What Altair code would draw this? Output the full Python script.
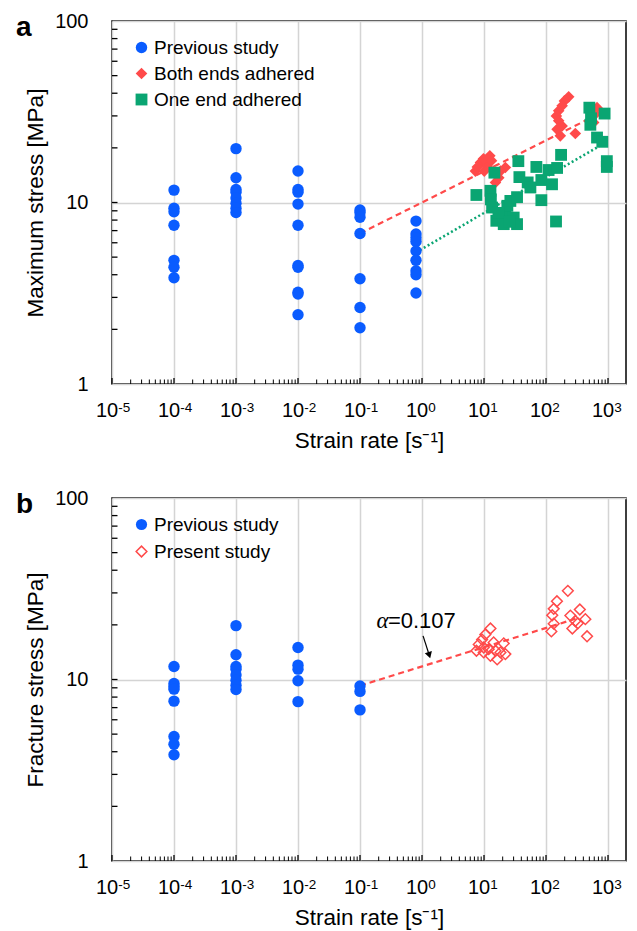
import altair as alt
import pandas as pd

FONT = "Liberation Sans"
BLUE = "#0a5cff"
RED = "#ff4a4a"
GREEN = "#0aa572"
GRID = "#d4d4d4"

# ---------------- axis ticks ----------------
x_ticks = [1e-5, 1e-4, 1e-3, 1e-2, 1e-1, 1, 10, 100, 1000]
x_tick_base = "10"
x_tick_exps = ["-5", "-4", "-3", "-2", "-1", "0", "1", "2", "3"]
y_ticks = [1, 10, 100]
x_minor = [m * 10.0 ** e for e in range(-5, 3) for m in range(2, 10)]
y_minor = [m * 10.0 ** e for e in range(0, 2) for m in range(2, 10)]

# ---------------- panel a data ----------------
prev_a_rate = [1e-4, 1e-4, 1e-4, 1e-4, 1e-4, 1e-4, 1e-4,
               1e-3, 1e-3, 1e-3, 1e-3, 1e-3, 1e-3, 1e-3, 1e-3,
               1e-2, 1e-2, 1e-2, 1e-2, 1e-2, 1e-2, 1e-2, 1e-2, 1e-2, 1e-2,
               1e-1, 1e-1, 1e-1, 1e-1, 1e-1, 1e-1, 1e-1,
               0.8, 0.8, 0.8, 0.8, 0.8, 0.8, 0.8, 0.8, 0.8]
prev_a_stress = [11.7, 9.3, 8.9, 7.5, 4.8, 4.4, 3.85,
                 19.8, 13.7, 11.8, 11.4, 10.6, 9.9, 9.3, 8.8,
                 14.9, 11.8, 11.4, 9.8, 7.5, 4.5, 4.4, 3.2, 3.13, 2.41,
                 9.1, 8.8, 8.3, 6.75, 3.8, 2.64, 2.04,
                 7.9, 6.7, 6.4, 6.1, 5.4, 4.8, 4.2, 4.0, 3.17]

both_rate = [12.4, 8.75, 7.27, 14.3, 22.1, 15.3, 17.3, 11.2, 9.8, 7.8, 18.4, 13.2, 10.1,
             232, 198, 182, 160, 147, 160, 182, 151, 170, 297, 519, 624, 586, 665]
both_stress = [18.1, 16.6, 14.9, 14.9, 15.6, 12.9, 13.7, 15.9, 17.4, 15.7, 14.9, 17.0, 14.9,
               38.2, 36.3, 34.1, 32.0, 30.0, 28.2, 26.4, 25.3, 23.3, 24.0, 32.0, 30.7, 27.6, 33.3]

one_rate = [7.54, 12.7, 12.9, 13.5, 14.7, 15.8, 20.8, 22.1, 23.8, 26.6, 30.1, 34.1, 34.1,
            35.8, 37.2, 50.6, 56.0, 69.9, 84.1, 84.1, 125, 110, 151, 175, 145,
            500, 532, 519, 665, 809, 881, 957, 957, 17.1, 25.6]
one_stress = [11.0, 11.6, 10.4, 9.38, 14.6, 7.93, 7.60, 8.63, 9.59, 10.2, 8.26, 10.7, 7.60,
              16.9, 13.8, 12.9, 12.1, 15.7, 13.3, 10.3, 12.6, 15.1, 15.5, 18.3, 7.86,
              33.3, 29.1, 26.8, 22.8, 21.6, 30.9, 15.7, 16.9, 8.77, 7.83]

fit_both_rate = [0.1, 665]
fit_both_stress = [6.75, 30.4]
fit_one_rate = [0.8, 733]
fit_one_stress = [5.31, 20.5]

# ---------------- panel b data ----------------
prev_b_rate = [1e-4, 1e-4, 1e-4, 1e-4, 1e-4, 1e-4, 1e-4, 1e-4,
               1e-3, 1e-3, 1e-3, 1e-3, 1e-3, 1e-3, 1e-3, 1e-3,
               1e-2, 1e-2, 1e-2, 1e-2, 1e-2,
               1e-1, 1e-1, 1e-1]
prev_b_stress = [11.8, 9.5, 9.15, 8.85, 7.6, 4.85, 4.4, 3.85,
                 19.8, 13.7, 11.8, 11.4, 10.6, 9.9, 9.3, 8.8,
                 15.0, 12.0, 11.4, 9.85, 7.55,
                 9.2, 8.6, 6.8]

present_rate = [12.7, 10.5, 9.31, 8.22, 7.55, 9.89, 11.9, 14.3, 15.3, 20.8, 18.4, 22.1, 12.7, 16.3, 9.89,
                225, 150, 133, 126, 133, 122, 247, 297, 351, 431, 326, 266, 459]
present_stress = [19.1, 17.7, 16.6, 15.6, 14.4, 15.0, 14.7, 16.0, 14.4, 15.8, 14.1, 13.8, 13.5, 12.9, 14.1,
                  30.8, 27.0, 24.5, 22.6, 20.3, 18.4, 22.5, 21.0, 24.3, 21.5, 20.4, 19.1, 17.3]

fit_b_rate = [0.1, 300]
fit_b_stress = [9.25, 21.6]

alpha_text = ["α", "=0.107"]
alpha_rate = [0.185, 0.282]
alpha_stress = [21.0, 21.0]
arrow_rate = [1.04, 1.31]
arrow_stress = [17.4, 13.6]

# ---------------- layout constants ----------------
W, H = 514, 363

xscale = alt.Scale(type="log", domain=[1e-5, 1950], nice=False)
yscale = alt.Scale(type="log", domain=[1, 100], nice=False)


def xenc():
    return alt.X(
        "x:Q", scale=xscale,
        axis=alt.Axis(
            values=x_ticks, labelExpr="'%s'" % x_tick_base, labelFont=FONT, labelFontSize=20,
            labelColor="black", labelPadding=16, labelOffset=-5.5, ticks=False, domain=False,
            grid=True, gridColor=GRID, gridWidth=1.5, labelFlush=False,
            title="Strain rate [s⁻¹]", titleFont=FONT, titleFontSize=22.5,
            titleFontWeight="normal", titleColor="black",
            titleX=W / 2, titleY=56, titleBaseline="middle", titleAlign="center",
        ),
    )


def yenc(title):
    return alt.Y(
        "y:Q", scale=yscale,
        axis=alt.Axis(
            values=y_ticks, format="d", labelFont=FONT, labelFontSize=20,
            labelColor="black", labelPadding=24, ticks=False, domain=False,
            grid=True, gridColor=GRID, gridWidth=1.5, labelFlush=False,
            title=title, titleFont=FONT, titleFontSize=22.5,
            titleFontWeight="normal", titleColor="black",
            titleX=-77, titleY=H / 2, titleBaseline="middle", titleAlign="center",
        ),
    )


def frame_layers(title):
    xm = alt.Chart(pd.DataFrame({"x": x_minor})).mark_rule(color="black", strokeWidth=1).encode(
        x=xenc(), y=alt.value(H), y2=alt.value(H - 4.5))
    xM = alt.Chart(pd.DataFrame({"x": x_ticks})).mark_rule(color="black", strokeWidth=1.3).encode(
        x=xenc(), y=alt.value(H), y2=alt.value(H - 6))
    ym = alt.Chart(pd.DataFrame({"y": y_minor + [10]})).mark_rule(color="black", strokeWidth=1.3).encode(
        y=yenc(title), x=alt.value(0), x2=alt.value(5.5))
    ex = alt.Chart(pd.DataFrame({"x": x_ticks, "e": x_tick_exps})).mark_text(
        font=FONT, fontSize=13.5, align="left", baseline="alphabetic", dx=6.3, color="black"
    ).encode(x=xenc(), y=alt.value(H + 28), text="e:N")
    return [xm, xM, ym, ex]


def fit_line(rates, stresses, color, dash, width, title):
    return alt.Chart(pd.DataFrame({"x": rates, "y": stresses})).mark_line(
        color=color, strokeDash=dash, strokeWidth=width).encode(x=xenc(), y=yenc(title))


def panel_label(t):
    return alt.Chart(pd.DataFrame({"t": [t]})).mark_text(
        font=FONT, fontSize=28, fontWeight="bold", align="left", baseline="alphabetic", color="black"
    ).encode(text="t:N", x=alt.value(-96), y=alt.value(14.5))


def legend(ly=17, size=125, sw=0):
    return alt.Legend(title=None, orient="none", legendX=20, legendY=ly, labelFont=FONT,
                      labelFontSize=19, labelColor="black", symbolSize=size, rowPadding=6,
                      labelOffset=3, padding=0, labelLimit=400, symbolStrokeWidth=sw)


# ---------------- panel a ----------------
TA = "Maximum stress [MPa]"
series_a = ["Previous study", "Both ends adhered", "One end adhered"]
df_a = pd.concat([
    pd.DataFrame({"x": prev_a_rate, "y": prev_a_stress, "sa": series_a[0]}),
    pd.DataFrame({"x": both_rate, "y": both_stress, "sa": series_a[1]}),
    pd.DataFrame({"x": one_rate, "y": one_stress, "sa": series_a[2]}),
], ignore_index=True)

pts_a = alt.Chart(df_a).mark_point(filled=True, opacity=1).encode(
    x=xenc(), y=yenc(TA),
    color=alt.Color("sa:N", scale=alt.Scale(domain=series_a, range=[BLUE, RED, GREEN]), legend=legend()),
    shape=alt.Shape("sa:N", scale=alt.Scale(domain=series_a, range=["circle", "diamond", "square"]), legend=legend()),
    size=alt.Size("sa:N", scale=alt.Scale(domain=series_a, range=[130, 140, 112]), legend=None),
)

panel_a = alt.layer(
    *frame_layers(TA),
    fit_line(fit_both_rate, fit_both_stress, RED, [6, 4], 2.2, TA),
    fit_line(fit_one_rate, fit_one_stress, GREEN, [2, 2.5], 2.5, TA),
    pts_a,
    panel_label("a"),
).properties(width=W, height=H)

# ---------------- panel b ----------------
TB = "Fracture stress [MPa]"
df_prev_b = pd.DataFrame({"x": prev_b_rate, "y": prev_b_stress, "s1": "Previous study"})
df_pres_b = pd.DataFrame({"x": present_rate, "y": present_stress, "s2": "Present study"})

pts_prev_b = alt.Chart(df_prev_b).mark_point(filled=True, opacity=1, color=BLUE, size=130).encode(
    x=xenc(), y=yenc(TB),
    shape=alt.Shape("s1:N", scale=alt.Scale(domain=["Previous study"], range=["circle"]),
                    legend=legend(17, 125, 0)),
)
pts_pres_b = alt.Chart(df_pres_b).mark_point(filled=False, opacity=1, color=RED, size=115, strokeWidth=1.5).encode(
    x=xenc(), y=yenc(TB),
    shape=alt.Shape("s2:N", scale=alt.Scale(domain=["Present study"], range=["diamond"]),
                    legend=legend(44, 115, 1.5)),
)

alpha_df = pd.DataFrame({"x": alpha_rate, "y": alpha_stress, "t": alpha_text})
alpha_sym = alt.Chart(alpha_df.iloc[[0]]).mark_text(
    font="Liberation Serif", fontStyle="italic", fontSize=23, align="left", baseline="middle", color="black"
).encode(x=xenc(), y=yenc(TB), text="t:N")
alpha_val = alt.Chart(alpha_df.iloc[[1]]).mark_text(
    font=FONT, fontSize=22, align="left", baseline="middle", color="black"
).encode(x=xenc(), y=yenc(TB), text="t:N")

arrow_df = pd.DataFrame({"x": arrow_rate, "y": arrow_stress})
arrow_line = alt.Chart(arrow_df).mark_line(color="black", strokeWidth=1.2).encode(x=xenc(), y=yenc(TB))
arrow_head = alt.Chart(arrow_df.iloc[[1]]).mark_point(
    shape="triangle-up", angle=163, filled=True, color="black", size=55, opacity=1
).encode(x=xenc(), y=yenc(TB))

panel_b = alt.layer(
    *frame_layers(TB),
    fit_line(fit_b_rate, fit_b_stress, RED, [6, 4], 2.2, TB),
    pts_prev_b, pts_pres_b,
    arrow_line, arrow_head, alpha_sym, alpha_val,
    panel_label("b"),
).resolve_scale(shape="independent").resolve_legend(shape="independent").properties(width=W, height=H)

chart = alt.vconcat(panel_a, panel_b, spacing=34).resolve_scale(
    color="independent", shape="independent", size="independent",
).resolve_legend(
    color="independent", shape="independent", size="independent",
).properties(
    padding={"left": 15, "top": 10, "right": 5, "bottom": 5},
    background="white",
).configure_view(stroke="black", strokeWidth=1.5)

chart.save("out.html", embed_options={"renderer": "svg", "actions": False})
